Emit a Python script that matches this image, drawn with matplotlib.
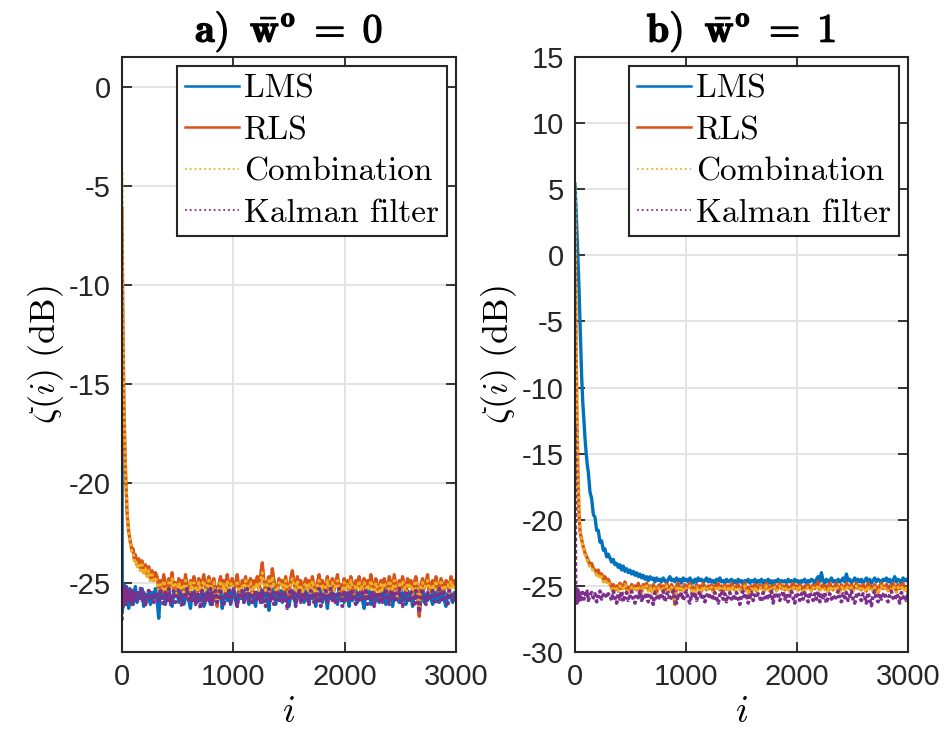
import matplotlib
matplotlib.use("Agg")
import matplotlib.pyplot as plt
import matplotlib.patheffects as pe

plt.rcParams['mathtext.fontset'] = 'cm'
plt.rcParams['axes.unicode_minus'] = False
plt.rcParams['font.family'] = ['Liberation Sans', 'DejaVu Sans']

# sample index i: dense during the transient, every 15 samples afterwards
i_idx = [0, 2, 4, 6, 8, 10, 12, 15, 18, 21, 25, 30, 35, 40, 45, 50, 60, 70, 80, 90,
         100, 110, 120, 135, 150, 165, 180, 195, 210, 225, 240, 255, 270, 285, 300,
         315, 330, 345, 360, 375, 390, 405, 420, 435, 450, 465, 480, 495, 510, 525,
         540, 555, 570, 585, 600, 615, 630, 645, 660, 675, 690, 705, 720, 735, 750,
         765, 780, 795, 810, 825, 840, 855, 870, 885, 900, 915, 930, 945, 960, 975,
         990, 1005, 1020, 1035, 1050, 1065, 1080, 1095, 1110, 1125, 1140, 1155, 1170, 1185, 1200,
         1215, 1230, 1245, 1260, 1275, 1290, 1305, 1320, 1335, 1350, 1365, 1380, 1395, 1410, 1425,
         1440, 1455, 1470, 1485, 1500, 1515, 1530, 1545, 1560, 1575, 1590, 1605, 1620, 1635, 1650,
         1665, 1680, 1695, 1710, 1725, 1740, 1755, 1770, 1785, 1800, 1815, 1830, 1845, 1860, 1875,
         1890, 1905, 1920, 1935, 1950, 1965, 1980, 1995, 2010, 2025, 2040, 2055, 2070, 2085, 2100,
         2115, 2130, 2145, 2160, 2175, 2190, 2205, 2220, 2235, 2250, 2265, 2280, 2295, 2310, 2325,
         2340, 2355, 2370, 2385, 2400, 2415, 2430, 2445, 2460, 2475, 2490, 2505, 2520, 2535, 2550,
         2565, 2580, 2595, 2610, 2625, 2640, 2655, 2670, 2685, 2700, 2715, 2730, 2745, 2760, 2775,
         2790, 2805, 2820, 2835, 2850, 2865, 2880, 2895, 2910, 2925, 2940, 2955, 2970, 2985, 3000]

# ---- a) w = 0 ----
lms_a = [-12.3, -24.9, -26.4, -25.3, -26.0, -25.2, -26.2, -25.5, -25.9, -25.1,
         -26.1, -25.4, -25.8, -25.2, -26.0, -25.5, -26.3, -25.3, -25.9, -25.4,
         -26.1, -25.6, -25.2, -26.0, -25.5, -25.8, -25.3, -26.2, -25.6, -25.9,
         -25.4, -26.1, -25.5, -25.8, -25.3,
         -25.9, -26.8, -25.4, -25.8, -25.3, -26.1, -25.6, -25.2, -25.9, -26.2, -25.5, -25.7, -25.3, -26.0, -25.6,
         -25.4, -26.1, -25.8, -25.3, -25.9, -26.3, -25.5, -25.7, -25.2, -26.0, -25.6, -25.9, -25.4, -26.2, -25.7,
         -25.3, -25.8, -26.1, -25.5, -25.9, -25.2, -26.0, -25.6, -25.4, -26.3, -25.7, -25.5, -25.9, -25.3, -26.1,
         -25.6, -25.2, -25.9, -26.2, -25.4, -25.8, -25.5, -26.0, -25.3, -25.7, -26.1, -25.6, -25.4, -25.9, -26.2,
         -25.5, -25.8, -25.3, -26.0, -25.6, -25.2, -25.9, -26.4, -25.5, -25.7, -25.3, -26.1, -25.6, -25.8, -25.4,
         -26.0, -25.5, -25.9, -25.3, -26.2, -25.7, -25.4, -25.8, -26.1, -25.5, -25.2, -25.9, -25.6, -26.0, -25.4,
         -25.7, -26.1, -25.3, -25.8, -25.5, -26.2, -25.6, -25.9, -25.3, -26.0, -25.5, -25.7, -26.3, -25.4, -25.8,
         -25.2, -25.9, -25.6, -26.1, -25.4, -25.8, -25.3, -26.0, -25.7, -25.5, -26.2, -25.4, -25.9, -25.6, -25.3,
         -26.0, -25.6, -25.4, -25.9, -26.3, -25.5, -25.8, -25.2, -26.1, -25.7, -25.4, -25.9, -25.6, -26.0, -25.5,
         -25.8, -25.3, -26.1, -25.6, -25.9, -25.4, -26.2, -25.7, -25.5, -25.8, -26.0, -25.3, -25.9, -25.6, -26.1,
         -25.4, -25.9, -25.6, -26.2, -25.5, -25.8, -25.3, -26.5, -25.7, -25.4, -26.0, -25.6, -25.9, -25.3, -25.8,
         -26.1, -25.5, -25.8, -25.4, -26.0, -25.7, -25.3, -25.9, -26.2, -25.6, -25.4, -25.8, -26.0, -25.5, -25.7]
rls_a = [-6.1, -7.8, -9.4, -10.7, -11.9, -12.8, -13.7, -15.0, -16.1, -17.0,
         -18.0, -19.1, -19.9, -20.6, -21.4, -21.8, -22.4, -22.8, -23.1, -23.4,
         -23.3, -23.8, -23.6, -24.1, -23.8, -24.3, -23.9, -24.5, -24.1, -24.6,
         -24.2, -24.8, -24.4, -24.9, -24.5,
         -24.7, -25.3, -24.9, -25.5, -24.6, -25.1, -25.6, -24.8, -25.2, -24.5, -25.4, -25.0, -25.7, -24.8, -25.2,
         -24.9, -25.5, -24.6, -25.2, -25.8, -24.9, -25.3, -24.7, -25.1, -25.6, -24.8, -25.4, -25.0, -24.6, -25.3,
         -25.1, -24.7, -25.5, -25.0, -24.8, -25.6, -26.2, -25.1, -24.7, -25.3, -24.9, -25.5, -24.6, -25.2, -25.0,
         -24.8, -25.4, -25.1, -24.6, -25.3, -25.7, -24.9, -25.2, -24.7, -25.5, -25.0, -24.8, -25.6, -24.9, -25.2,
         -24.7, -25.3, -24.6, -24.0, -24.9, -25.4, -25.0, -24.7, -25.5, -24.3, -24.9, -25.2, -25.6, -24.8, -25.1,
         -24.9, -25.4, -24.7, -25.2, -25.7, -24.8, -24.4, -25.0, -25.5, -24.7, -25.3, -24.9, -25.6, -25.1, -24.8,
         -25.3, -24.9, -25.5, -24.7, -25.2, -25.8, -25.0, -24.6, -25.3, -24.9, -25.4, -25.1, -24.7, -25.6, -25.0,
         -24.8, -25.4, -25.0, -24.6, -25.3, -25.1, -25.7, -24.8, -25.2, -24.9, -25.5, -24.7, -25.1, -25.6, -24.9,
         -25.2, -24.7, -25.4, -25.0, -24.8, -25.6, -24.9, -25.3, -24.6, -25.1, -25.5, -24.8, -25.2, -25.7, -24.9,
         -25.3, -24.8, -25.1, -25.5, -24.7, -25.0, -25.4, -24.6, -25.2, -25.8, -24.9, -25.3, -24.7, -25.1, -25.5,
         -24.8, -25.2, -24.9, -25.6, -25.0, -24.7, -25.4, -26.7, -25.1, -24.8, -25.3, -25.0, -24.6, -25.5, -25.1,
         -24.9, -25.3, -24.7, -25.2, -25.6, -24.8, -25.1, -25.4, -24.9, -25.0, -25.5, -24.7, -25.2, -24.9, -25.3]
comb_a = [-4.3, -7.3, -9.1, -10.5, -11.7, -12.7, -13.6, -14.9, -16.0, -16.9,
          -17.9, -19.0, -19.9, -20.6, -21.3, -21.8, -22.4, -22.9, -23.2, -23.5,
          -23.5, -23.9, -23.8, -24.2, -24.0, -24.4, -24.1, -24.6, -24.3, -24.7,
          -24.4, -24.9, -24.6, -25.0, -24.7,
          -25.0, -25.4, -25.1, -25.5, -24.9, -25.3, -25.6, -25.0, -25.3, -24.8, -25.4, -25.1, -25.6, -25.0, -25.3,
          -25.1, -25.5, -24.9, -25.3, -25.7, -25.0, -25.4, -25.0, -25.2, -25.6, -25.0, -25.4, -25.1, -24.9, -25.4,
          -25.2, -24.9, -25.5, -25.1, -25.0, -25.6, -25.9, -25.2, -24.9, -25.4, -25.1, -25.5, -24.9, -25.3, -25.1,
          -25.0, -25.4, -25.2, -24.9, -25.4, -25.6, -25.1, -25.3, -24.9, -25.5, -25.1, -25.0, -25.6, -25.1, -25.3,
          -25.0, -25.4, -24.9, -24.5, -25.1, -25.4, -25.1, -24.9, -25.5, -24.7, -25.1, -25.3, -25.6, -25.0, -25.2,
          -25.1, -25.4, -24.9, -25.3, -25.6, -25.0, -24.8, -25.1, -25.5, -24.9, -25.4, -25.1, -25.6, -25.2, -25.0,
          -25.4, -25.1, -25.5, -24.9, -25.3, -25.7, -25.1, -24.9, -25.4, -25.1, -25.5, -25.2, -24.9, -25.6, -25.1,
          -25.0, -25.4, -25.1, -24.9, -25.4, -25.2, -25.6, -25.0, -25.3, -25.1, -25.5, -24.9, -25.2, -25.6, -25.1,
          -25.3, -24.9, -25.4, -25.1, -25.0, -25.6, -25.1, -25.4, -24.9, -25.2, -25.5, -25.0, -25.3, -25.6, -25.1,
          -25.4, -25.0, -25.2, -25.5, -24.9, -25.1, -25.4, -24.9, -25.3, -25.7, -25.1, -25.4, -24.9, -25.2, -25.5,
          -25.0, -25.3, -25.1, -25.6, -25.1, -24.9, -25.4, -26.3, -25.2, -25.0, -25.4, -25.1, -24.9, -25.5, -25.2,
          -25.1, -25.4, -24.9, -25.3, -25.6, -25.0, -25.2, -25.4, -25.1, -25.1, -25.5, -24.9, -25.3, -25.1, -25.4]
kal_a = [-26.9, -25.4, -26.1, -25.5, -25.9, -25.3, -26.0, -25.6, -25.2, -25.9,
         -25.5, -26.2, -25.4, -25.8, -25.3, -26.0, -25.6, -25.9, -25.3, -26.1,
         -25.5, -25.8, -25.4, -26.0, -25.6, -25.3, -25.9, -25.5, -26.2, -25.7,
         -25.4, -25.9, -25.6, -26.0, -25.5,
         -25.6, -26.0, -25.3, -25.8, -26.2, -25.5, -25.9, -25.3, -26.1, -25.6, -25.4, -26.0, -25.7, -25.3, -25.9,
         -26.2, -25.5, -25.8, -25.3, -26.0, -25.6, -25.9, -25.4, -26.1, -25.5, -25.8, -26.3, -25.4, -25.7, -26.0,
         -25.5, -25.9, -25.3, -26.1, -25.6, -25.4, -26.0, -25.7, -25.3, -25.9, -26.2, -25.5, -25.8, -25.4, -26.0,
         -25.6, -25.3, -25.9, -26.2, -25.5, -25.8, -25.4, -26.0, -25.6, -25.3, -25.9, -25.5, -26.1, -25.7, -25.4,
         -25.9, -25.5, -26.0, -25.4, -25.8, -26.2, -25.6, -25.3, -25.9, -25.5, -26.1, -25.7, -25.4, -25.9, -25.6,
         -26.0, -25.4, -25.8, -26.3, -25.6, -25.3, -25.9, -25.5, -26.2, -25.7, -25.4, -26.0, -25.6, -25.8, -25.5,
         -25.8, -26.1, -25.4, -25.7, -26.0, -25.5, -25.9, -25.3, -26.2, -25.6, -25.8, -25.4, -26.0, -25.7, -25.3,
         -25.9, -25.5, -26.1, -25.6, -25.3, -25.8, -26.2, -25.4, -25.7, -26.0, -25.5, -25.9, -25.3, -25.8, -26.1,
         -25.4, -25.7, -26.0, -25.5, -25.9, -25.3, -26.1, -25.6, -25.8, -25.4, -26.2, -25.7, -25.5, -25.9, -25.6,
         -26.0, -25.6, -25.3, -25.9, -26.1, -25.5, -25.8, -25.4, -26.0, -25.7, -25.3, -25.9, -26.2, -25.6, -25.4,
         -25.8, -26.0, -25.5, -25.7, -26.2, -25.4, -25.9, -26.5, -25.6, -25.3, -25.8, -26.1, -25.5, -25.9, -25.6,
         -25.4, -25.9, -26.1, -25.6, -25.3, -25.8, -26.0, -25.5, -25.7, -26.2, -25.4, -25.8, -25.6, -26.0, -25.5]

# ---- b) w = 1 ----
lms_b = [5.4, 5.0, 4.6, 4.2, 3.8, 3.3, 2.9, 2.3, 1.7, 1.0,
         0.1, -0.9, -2.2, -3.6, -5.0, -6.5, -9.2, -11.1, -12.5, -13.8,
         -14.9, -15.8, -16.4, -17.9, -18.4, -19.6, -19.8, -20.8, -20.8, -21.7,
         -21.6, -22.3, -22.2, -22.8, -22.6,
         -22.9, -23.2, -23.0, -23.4, -23.3, -23.6, -23.4, -23.8, -23.5, -23.9, -23.7, -24.0, -23.8, -24.1, -23.9,
         -24.2, -24.0, -24.3, -24.1, -24.4, -24.2, -24.5, -24.3, -24.6, -24.3, -24.5, -24.4, -24.7, -24.4, -24.6,
         -24.5, -24.7, -24.4, -24.6, -24.8, -24.5, -24.3, -24.6, -24.5, -24.7, -24.4, -24.6, -24.5, -24.8, -24.4,
         -24.6, -24.5, -24.7, -24.4, -24.6, -24.8, -24.5, -24.7, -24.4, -24.6, -24.5, -24.7, -24.6, -24.4, -24.7,
         -24.5, -24.7, -24.6, -24.8, -24.5, -24.6, -24.4, -24.7, -24.6, -24.8, -24.5, -24.7, -24.6, -24.5, -24.8,
         -24.6, -24.8, -24.5, -24.7, -24.6, -24.9, -24.6, -24.7, -24.5, -24.8, -24.6, -24.7, -24.5, -24.8, -24.6,
         -24.7, -24.5, -24.8, -24.6, -24.7, -24.5, -24.8, -24.6, -24.9, -24.6, -24.7, -24.5, -24.8, -24.6, -24.7,
         -24.6, -24.8, -24.5, -24.7, -24.6, -24.8, -24.5, -24.7, -24.6, -24.9, -24.6, -24.7, -24.5, -24.8, -24.6,
         -24.7, -24.5, -24.6, -24.8, -24.5, -24.3, -24.7, -24.0, -24.6, -24.8, -24.5, -24.7, -24.6, -24.4, -24.7,
         -24.6, -24.8, -24.5, -24.7, -24.6, -24.4, -24.7, -24.1, -24.6, -24.5, -24.8, -24.6, -24.4, -24.7, -24.5,
         -24.7, -24.5, -24.8, -24.6, -24.4, -24.7, -24.5, -24.8, -24.6, -24.4, -24.7, -24.5, -24.6, -24.8, -24.5,
         -24.6, -24.4, -24.7, -24.5, -24.8, -24.6, -24.3, -24.7, -24.5, -24.6, -24.8, -24.4, -24.6, -24.5, -24.7]
rls_b = [2.5, 0.3, -1.9, -3.9, -5.8, -7.5, -9.0, -11.0, -12.8, -14.3,
         -16.0, -17.8, -19.2, -20.2, -20.8, -21.1, -21.5, -21.9, -22.2, -22.5,
         -22.7, -22.9, -23.1, -23.4, -23.3, -23.7, -23.8, -24.0, -23.8, -24.3,
         -24.1, -24.5, -24.3, -24.7, -24.5,
         -24.8, -25.1, -24.9, -25.3, -25.0, -25.4, -24.8, -25.2, -25.0, -24.7, -25.3, -25.1, -25.4, -24.9, -25.2,
         -25.0, -25.3, -24.8, -25.2, -25.5, -24.9, -25.1, -24.8, -25.3, -25.0, -25.4, -24.9, -25.2, -25.6, -25.0,
         -24.9, -25.2, -25.0, -25.4, -24.8, -25.1, -25.3, -24.9, -25.2, -26.4, -25.0, -24.8, -25.3, -25.1, -25.4,
         -24.9, -25.2, -25.0, -24.8, -25.3, -25.1, -25.5, -24.9, -25.2, -25.0, -25.4, -24.8, -25.1, -25.3, -25.0,
         -25.2, -24.9, -25.4, -25.0, -25.1, -24.8, -25.3, -25.0, -25.5, -24.9, -25.2, -25.0, -25.3, -24.8, -25.1,
         -25.3, -25.0, -24.9, -25.2, -25.4, -25.0, -24.8, -25.3, -25.1, -25.9, -25.0, -25.2, -24.9, -25.4, -25.1,
         -24.9, -25.2, -25.0, -25.3, -24.8, -25.1, -25.4, -25.0, -25.2, -24.9, -25.3, -25.1, -24.8, -25.2, -25.0,
         -25.3, -24.9, -25.1, -25.4, -25.0, -24.8, -25.2, -25.0, -25.3, -24.9, -25.1, -25.5, -25.0, -25.2, -24.9,
         -25.1, -25.3, -24.9, -25.2, -25.0, -24.7, -25.3, -25.1, -24.9, -25.2, -25.0, -25.4, -24.8, -25.1, -25.3,
         -25.0, -24.8, -25.2, -25.4, -24.9, -25.1, -25.3, -24.8, -25.0, -25.2, -24.9, -25.3, -25.1, -24.8, -25.2,
         -25.0, -25.3, -24.9, -25.1, -25.4, -24.8, -25.2, -25.0, -25.3, -24.9, -25.1, -25.5, -25.0, -24.8, -25.2,
         -25.1, -24.9, -25.3, -25.0, -25.2, -24.8, -25.1, -25.4, -24.9, -25.2, -25.0, -24.8, -25.3, -25.1, -25.5]
comb_b = [5.5, 3.2, 0.9, -1.3, -3.4, -5.3, -7.1, -9.5, -11.6, -13.4,
          -15.4, -17.4, -19.0, -20.2, -20.9, -21.2, -21.6, -22.0, -22.3, -22.6,
          -22.8, -23.1, -23.3, -23.6, -23.6, -23.9, -24.0, -24.2, -24.1, -24.5,
          -24.3, -24.7, -24.5, -24.8, -24.7,
          -25.0, -25.3, -25.1, -25.4, -25.2, -25.5, -25.0, -25.3, -25.2, -24.9, -25.4, -25.2, -25.5, -25.1, -25.3,
          -25.2, -25.4, -25.0, -25.3, -25.6, -25.1, -25.2, -25.0, -25.4, -25.1, -25.5, -25.1, -25.3, -25.6, -25.2,
          -25.1, -25.3, -25.2, -25.5, -25.0, -25.2, -25.4, -25.1, -25.3, -26.0, -25.2, -25.0, -25.4, -25.2, -25.5,
          -25.1, -25.3, -25.2, -25.0, -25.4, -25.2, -25.6, -25.1, -25.3, -25.2, -25.5, -25.0, -25.2, -25.4, -25.2,
          -25.3, -25.1, -25.5, -25.2, -25.2, -25.0, -25.4, -25.2, -25.6, -25.1, -25.3, -25.2, -25.4, -25.0, -25.2,
          -25.4, -25.2, -25.1, -25.3, -25.5, -25.2, -25.0, -25.4, -25.2, -25.7, -25.2, -25.3, -25.1, -25.5, -25.2,
          -25.1, -25.3, -25.2, -25.4, -25.0, -25.2, -25.5, -25.2, -25.3, -25.1, -25.4, -25.2, -25.0, -25.3, -25.2,
          -25.4, -25.1, -25.2, -25.5, -25.2, -25.0, -25.3, -25.2, -25.4, -25.1, -25.2, -25.6, -25.2, -25.3, -25.1,
          -25.2, -25.4, -25.1, -25.3, -25.2, -24.9, -25.4, -25.2, -25.1, -25.3, -25.2, -25.5, -25.0, -25.2, -25.4,
          -25.2, -25.0, -25.3, -25.5, -25.1, -25.2, -25.4, -25.0, -25.2, -25.3, -25.1, -25.4, -25.2, -25.0, -25.3,
          -25.2, -25.4, -25.1, -25.2, -25.5, -25.0, -25.3, -25.2, -25.4, -25.1, -25.2, -25.6, -25.2, -25.0, -25.3,
          -25.2, -25.1, -25.4, -25.2, -25.3, -25.0, -25.2, -25.5, -25.1, -25.3, -25.2, -25.0, -25.4, -25.2, -25.6]
kal_b = [-13.0, -19.5, -23.5, -25.4, -26.2, -25.5, -26.0, -25.4, -26.3, -25.7,
         -25.3, -26.1, -25.6, -25.9, -25.4, -26.2, -25.7, -25.5, -26.0, -25.6,
         -25.8, -25.4, -26.1, -25.7, -25.5, -25.9, -25.6, -26.2, -25.8, -25.4,
         -26.0, -25.7, -25.5, -25.9, -25.6,
         -25.7, -26.1, -25.4, -25.9, -26.3, -25.6, -26.0, -25.4, -26.2, -25.7, -25.5, -26.1, -25.8, -25.4, -26.0,
         -26.3, -25.6, -25.9, -25.4, -26.1, -25.7, -26.0, -25.5, -26.2, -25.6, -25.9, -26.4, -25.5, -25.8, -26.1,
         -25.6, -26.0, -25.4, -26.2, -25.7, -25.5, -26.1, -25.8, -25.4, -26.0, -26.3, -25.6, -25.9, -25.5, -26.1,
         -25.7, -25.4, -26.0, -26.3, -25.6, -25.9, -25.5, -26.1, -25.7, -25.4, -26.0, -25.6, -26.2, -25.8, -25.5,
         -26.0, -25.6, -26.1, -25.5, -25.9, -26.3, -25.7, -25.4, -26.0, -25.6, -26.2, -25.8, -25.5, -26.0, -25.7,
         -26.1, -25.5, -25.9, -26.4, -25.7, -25.4, -26.0, -25.6, -26.3, -25.8, -25.5, -26.1, -25.7, -25.9, -25.6,
         -25.9, -26.2, -25.5, -25.8, -26.1, -25.6, -26.0, -25.4, -26.3, -25.7, -25.9, -25.5, -26.1, -25.8, -25.4,
         -26.0, -25.6, -26.2, -25.7, -25.4, -25.9, -26.3, -25.5, -25.8, -26.1, -25.6, -26.0, -25.4, -25.9, -26.2,
         -25.5, -25.8, -26.1, -25.6, -26.0, -25.4, -26.2, -25.7, -25.9, -25.5, -26.3, -25.8, -25.6, -26.0, -25.7,
         -26.1, -25.7, -25.4, -26.0, -26.2, -25.6, -25.9, -25.5, -26.1, -25.8, -25.4, -26.0, -26.3, -25.7, -25.5,
         -25.9, -26.1, -25.6, -25.8, -26.3, -25.5, -26.0, -26.5, -25.7, -25.4, -25.9, -26.2, -25.6, -26.0, -25.7,
         -25.5, -26.0, -26.2, -25.7, -25.4, -25.9, -26.1, -25.6, -25.8, -26.3, -25.5, -25.9, -25.7, -26.1, -25.6]

labels = ["LMS", "RLS", "Combination", "Kalman filter"]
colors = ["#0072BD", "#D95319", "#EDB120", "#7E2F8E"]
titles = [r'$\mathbf{a)}\;\;\bar{\mathbf{w}}^{\mathbf{o}}\;\mathbf{=}\;\mathbf{0}$',
          r'$\mathbf{b)}\;\;\bar{\mathbf{w}}^{\mathbf{o}}\;\mathbf{=}\;\mathbf{1}$']

fig = plt.figure(figsize=(9.48, 7.33), dpi=100)
ax1 = fig.add_axes([122/948, 81/733, 334/948, 595/733])
ax2 = fig.add_axes([575/948, 81/733, 333/948, 595/733])

panels = [(ax1, [lms_a, rls_a, comb_a, kal_a], (-28.5, 1.5), [-25, -20, -15, -10, -5, 0]),
          (ax2, [lms_b, rls_b, comb_b, kal_b], (-30, 15), [-30, -25, -20, -15, -10, -5, 0, 5, 10, 15])]

for k, (ax, series, ylim, yt) in enumerate(panels):
    ax.plot(i_idx, series[0], color=colors[0], lw=2.4, label=labels[0])
    ax.plot(i_idx, series[1], color=colors[1], lw=2.4, label=labels[1])
    ax.plot(i_idx, series[2], color=colors[2], lw=2.2, ls=(0, (1, 0.9)), label=labels[2])
    ax.plot(i_idx, series[3], color=colors[3], lw=2.6, ls=(0, (1, 0.7)), label=labels[3])
    ax.set_xlim(0, 3000)
    ax.set_ylim(*ylim)
    ax.set_xticks([0, 1000, 2000, 3000])
    ax.set_yticks(yt)
    ax.grid(True, color="#e3e3e3", lw=1.4)
    ax.set_axisbelow(True)
    ax.tick_params(direction='in', length=7, width=1.3, top=True, right=True,
                   labelsize=21, colors="#262626", pad=8)
    for s in ax.spines.values():
        s.set_color("#262626")
        s.set_linewidth(1.5)
    t = ax.set_title(titles[k], fontsize=29, pad=11)
    t.set_path_effects([pe.withStroke(linewidth=0.9, foreground='black')])
    ax.set_xlabel(r'$i$', fontsize=27, labelpad=2)
    ax.set_ylabel(r'$\zeta(i)\ \mathrm{(dB)}$', fontsize=26, labelpad=2)
    leg = ax.legend(loc='upper right', bbox_to_anchor=(1 - 9/334, 1 - 9/595), borderaxespad=0,
                    prop={'family': 'cmr10', 'size': 24}, handlelength=1.6, handletextpad=0.15,
                    labelspacing=0.36, borderpad=0.25, fancybox=False, framealpha=1)
    leg.get_frame().set_edgecolor("#262626")
    leg.get_frame().set_linewidth(1.5)
    for h, w in zip(leg.legend_handles, [1.8, 1.8, 1.3, 1.3]):
        h.set_linewidth(w)
    for h in leg.legend_handles[2:]:
        h.set_linestyle(':')

fig.savefig("out.png", dpi=100)
